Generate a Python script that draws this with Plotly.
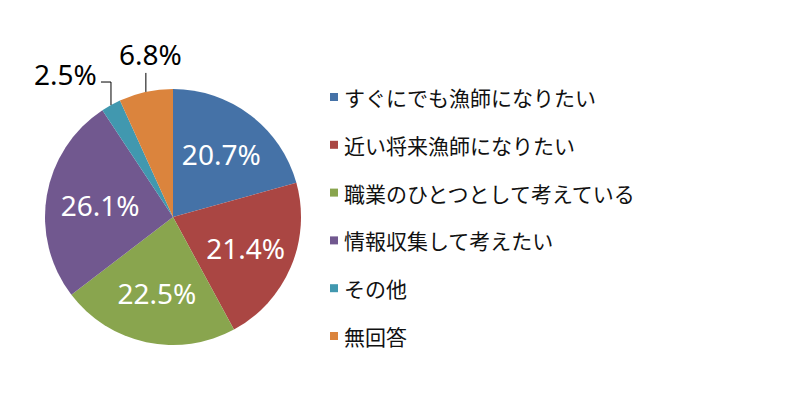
import math
import plotly.graph_objects as go

labels = ["すぐにでも漁師になりたい", "近い将来漁師になりたい", "職業のひとつとして考えている",
          "情報収集して考えたい", "その他", "無回答"]
values = [20.7, 21.4, 22.5, 26.1, 2.5, 6.8]
colors = ["#4572A7", "#AA4643", "#89A54E", "#71588F", "#4198AF", "#DB843D"]
outside = [False, False, False, False, True, True]

W, H = 800, 417
cx, cy, R = 173, 217, 128

def px(x):
    return x / W

def py(y):
    return 1 - y / H

fig = go.Figure()
fig.add_trace(go.Pie(
    labels=labels, values=values, sort=False, direction="clockwise", rotation=0,
    marker=dict(colors=colors, line=dict(width=0)),
    text=["" if o else f"{v}%" for v, o in zip(values, outside)],
    textinfo="text",
    textposition=["none" if o else "inside" for o in outside],
    insidetextorientation="horizontal",
    insidetextfont=dict(family="Noto Sans", size=28, color="white"),
    domain=dict(x=[px(cx - R), px(cx + R)], y=[py(cy + R), py(cy - R)]),
    showlegend=False, hoverinfo="label+percent",
))

# outside labels with leader lines, placed from slice angles
total = sum(values)
cum = 0
for v, o in zip(values, outside):
    mid = (cum + v / 2) / total
    cum += v
    if not o:
        continue
    ang = 2 * math.pi * mid
    ex = cx + R * math.sin(ang)
    ey = cy - R * math.cos(ang)
    if v < 4:
        pts = [(ex, ey), (ex, ey - 23), (ex - 10, ey - 23)]
        tx, ty, anchor = ex - 12, ey - 31, "right"
    else:
        pts = [(ex, ey), (ex, ey - 19)]
        tx, ty, anchor = ex + 5, ey - 38, "center"
    for (x0, y0), (x1, y1) in zip(pts[:-1], pts[1:]):
        fig.add_shape(type="line", xref="paper", yref="paper",
                      x0=px(x0), y0=py(y0), x1=px(x1), y1=py(y1),
                      line=dict(color="black", width=1))
    fig.add_annotation(x=px(tx), y=py(ty), xref="paper", yref="paper",
                       text=f"{v}%", showarrow=False, xanchor=anchor, yanchor="middle",
                       font=dict(family="Noto Sans", size=28, color="black"))

# legend drawn by hand
for i, (lab, col) in enumerate(zip(labels, colors)):
    ly = 97 + i * 47.8
    fig.add_shape(type="rect", xref="paper", yref="paper",
                  x0=px(330), x1=px(338), y0=py(ly + 4), y1=py(ly - 4),
                  fillcolor=col, line=dict(width=0))
    fig.add_annotation(x=px(342), y=py(ly), xref="paper", yref="paper",
                       text=lab, showarrow=False, xanchor="left", yanchor="middle",
                       font=dict(family="Noto Sans CJK JP", size=21, color="#111111"))

fig.update_layout(
    width=W, height=H,
    margin=dict(l=0, r=0, t=0, b=0),
    paper_bgcolor="white", plot_bgcolor="white",
)

fig.write_html("out.html", config={"displayModeBar": False},
               post_script="document.body.style.margin='0';")
